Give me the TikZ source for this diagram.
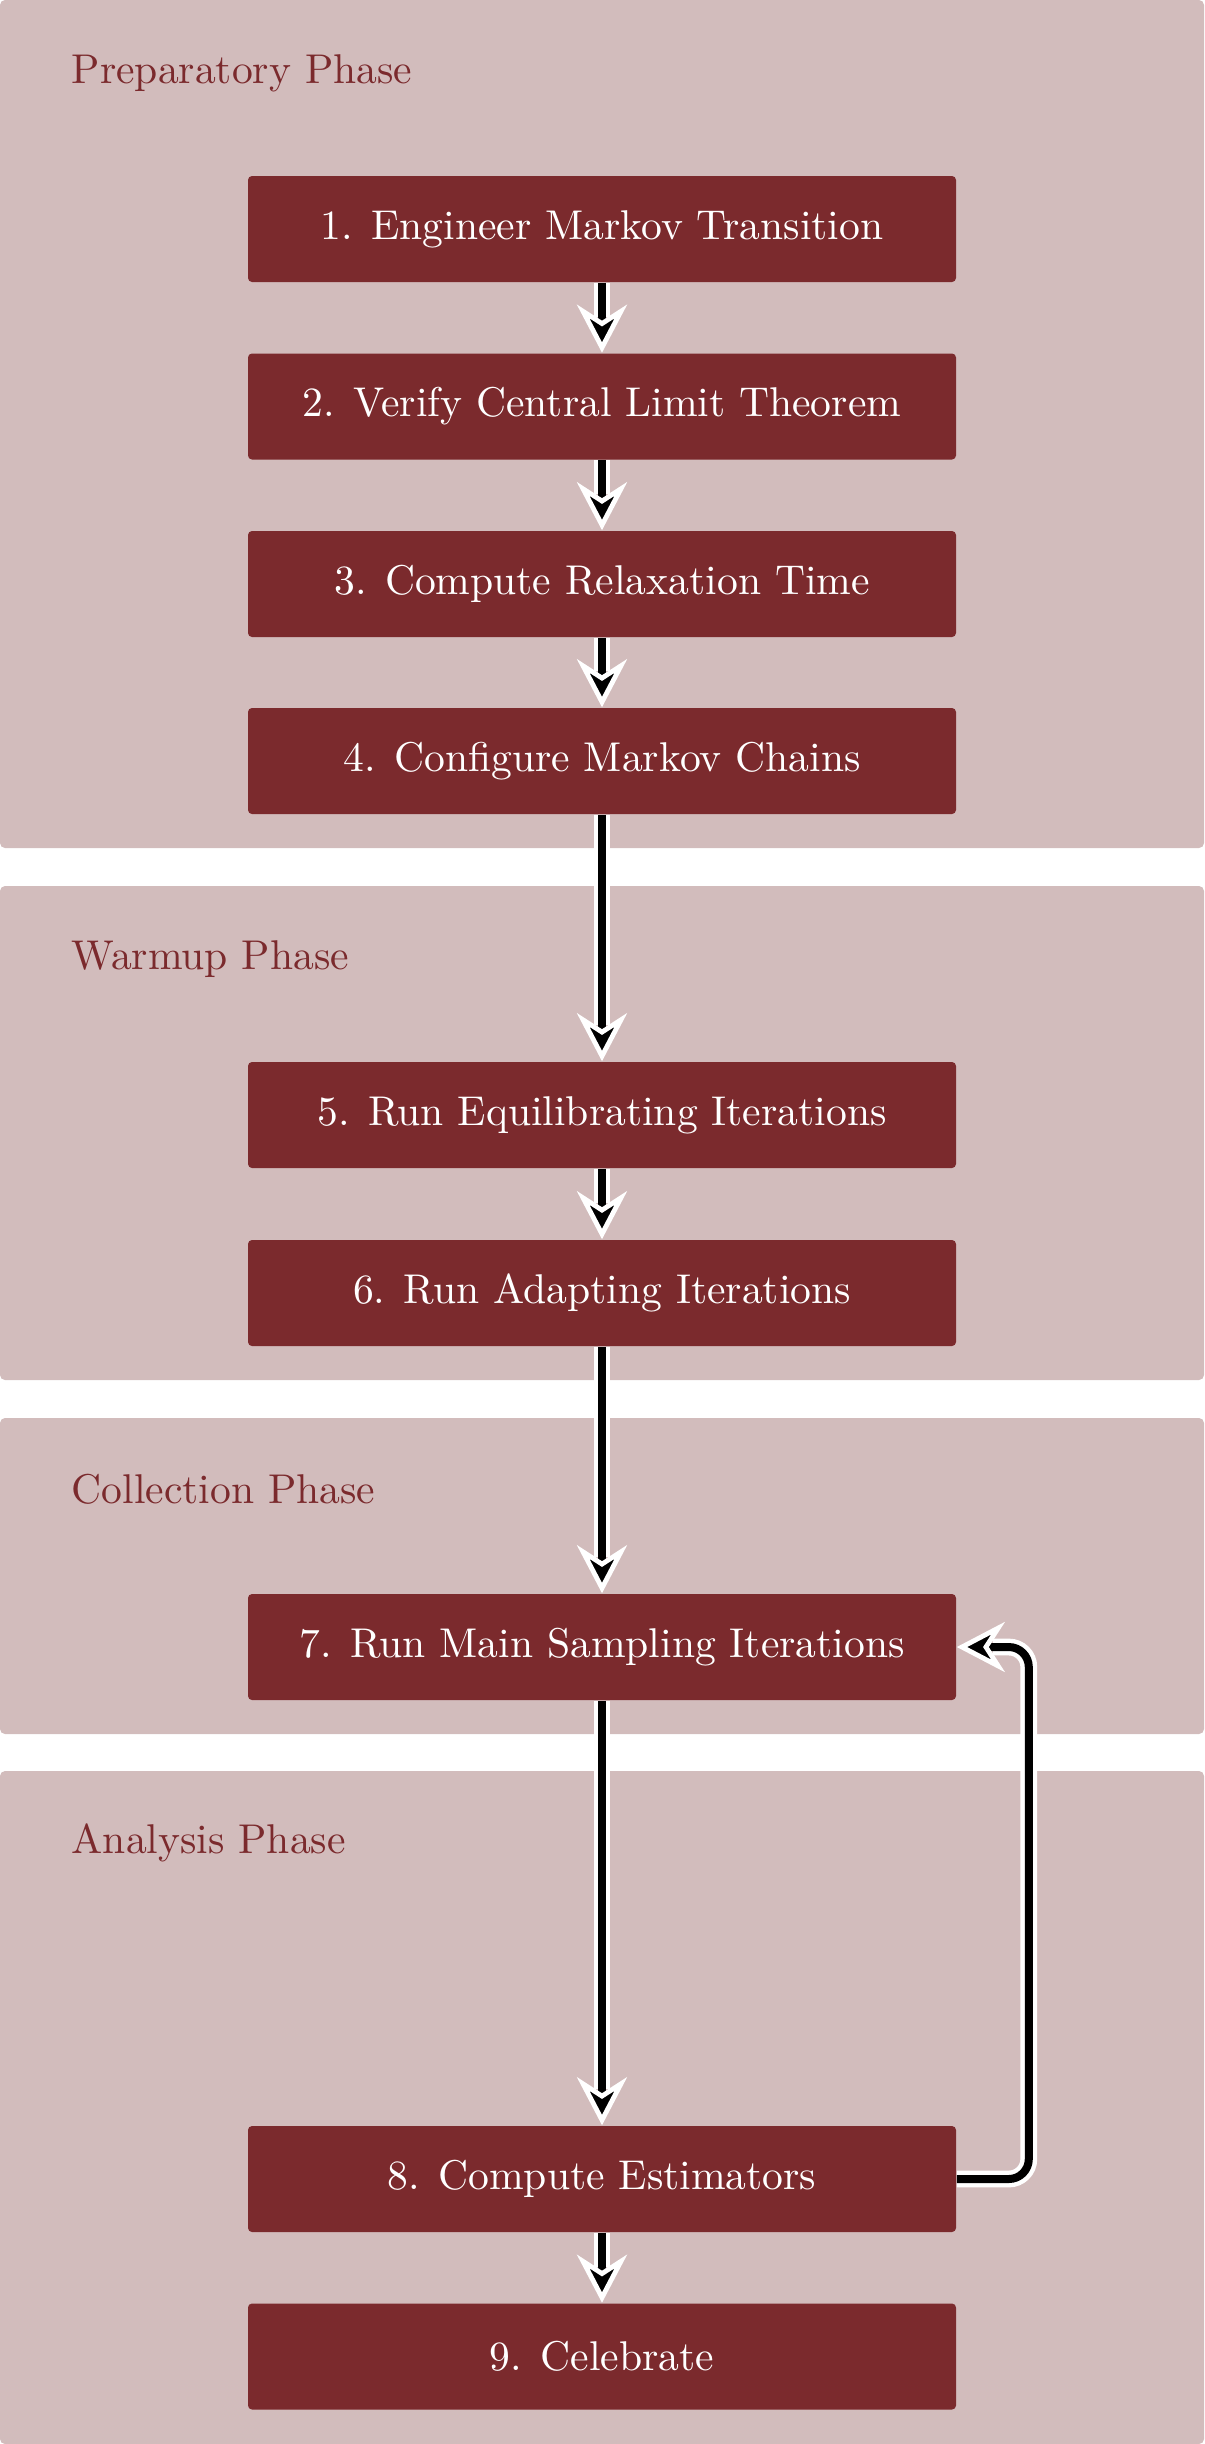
\documentclass[tikz,border=0pt]{standalone}
\usetikzlibrary{arrows.meta}
\definecolor{panelc}{RGB}{210,188,188}
\definecolor{boxc}{RGB}{123,42,45}
\begin{document}
\begin{tikzpicture}[x=0.25pt,y=-0.25pt,
  every node/.style={font=\fontsize{10.4pt}{12.5pt}\selectfont},
  panel/.style={fill=panelc, rounded corners=1.25pt},
  stepbox/.style={fill=boxc, text=white, rounded corners=1pt, minimum width=177pt, minimum height=26.5pt, inner sep=0pt},
  phase/.style={text=boxc, anchor=base west, inner sep=0pt},
  flow/.style={line width=2pt, -{Stealth[length=12pt,width=12.5pt,inset=4pt,color=white,fill=black,line width=1.2pt]},
    preaction={draw=white,line width=4.2pt,-,shorten >=9pt}}
]
\useasboundingbox (0,0) rectangle (1204,2444);
% panels
\fill[panel] (0,0) rectangle (1204,848);
\fill[panel] (0,886) rectangle (1204,1380);
\fill[panel] (0,1418) rectangle (1204,1734);
\fill[panel] (0,1771) rectangle (1204,2444);
% phase labels
\node[phase] (l1) at (71,83) {Preparatory Phase};
\node[phase] (l2) at (71,969) {Warmup Phase};
\node[phase] (l3) at (71,1503) {Collection Phase};
\node[phase] (l4) at (71,1853) {Analysis Phase};
% steps
\node[stepbox] (s1) at (602,229) {1. Engineer Markov Transition};
\node[stepbox] (s2) at (602,406.5) {2. Verify Central Limit Theorem};
\node[stepbox] (s3) at (602,584) {3. Compute Relaxation Time};
\node[stepbox] (s4) at (602,761) {4. Configure Markov Chains};
\node[stepbox] (s5) at (602,1115) {5. Run Equilibrating Iterations};
\node[stepbox] (s6) at (602,1293) {6. Run Adapting Iterations};
\node[stepbox] (s7) at (602,1647) {7. Run Main Sampling Iterations};
\node[stepbox] (s8) at (602,2179) {8. Compute Estimators};
\node[stepbox] (s9) at (602,2356.5) {9. Celebrate};
% connectors
\draw[flow] (s1) -- (s2);
\draw[flow] (s2) -- (s3);
\draw[flow] (s3) -- (s4);
\draw[flow] (s4) -- (s5);
\draw[flow] (s5) -- (s6);
\draw[flow] (s6) -- (s7);
\draw[flow] (s7) -- (s8);
\draw[flow] (s8) -- (s9);
\draw[flow, rounded corners=5pt] (s8.east) -- ++(72,0) |- (s7.east);
\end{tikzpicture}
\end{document}
